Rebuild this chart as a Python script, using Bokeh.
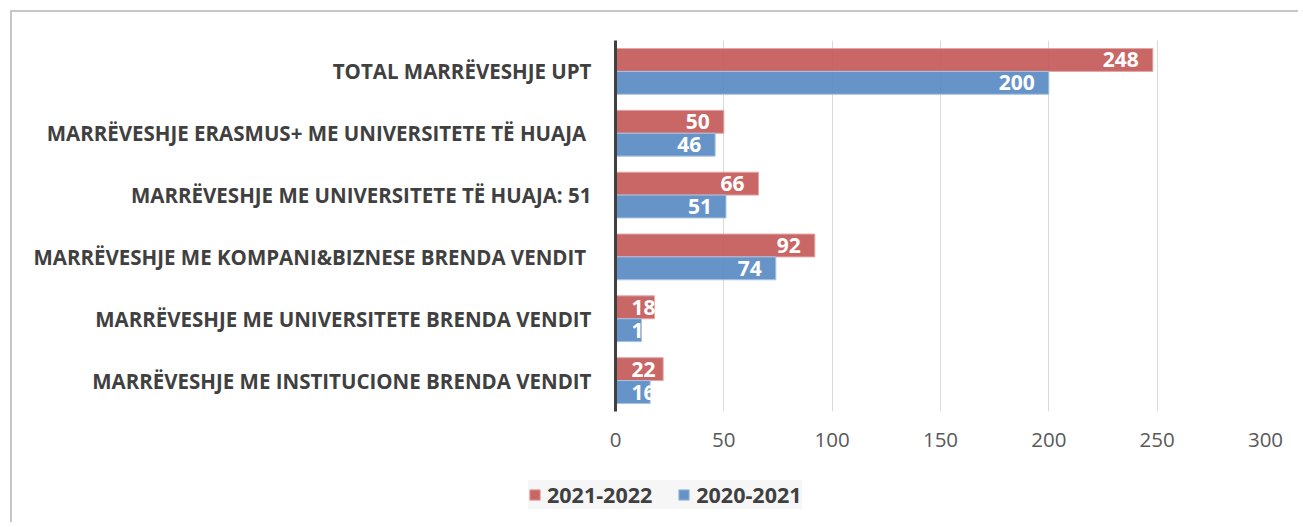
from bokeh.plotting import figure
from bokeh.layouts import column
from bokeh.models import ColumnDataSource, FactorRange, Legend, LegendItem, FixedTicker, Column
from bokeh.transform import dodge
from bokeh.core.properties import value
from bokeh.embed import file_html
from bokeh.resources import INLINE

# ---- data ----
categories = [
    "TOTAL MARRËVESHJE UPT",
    "MARRËVESHJE ERASMUS+ ME UNIVERSITETE TË HUAJA ",
    "MARRËVESHJE ME UNIVERSITETE TË HUAJA: 51",
    "MARRËVESHJE ME KOMPANI&BIZNESE BRENDA VENDIT ",
    "MARRËVESHJE ME UNIVERSITETE BRENDA VENDIT",
    "MARRËVESHJE ME INSTITUCIONE BRENDA VENDIT",
]
series_names = ["2021-2022", "2020-2021"]
values_2122 = [248, 50, 66, 92, 18, 22]
values_2021 = [200, 46, 51, 74, 12, 16]
labels_2122 = ["248", "50", "66", "92", "18", "22"]
labels_2021 = ["200", "46", "51", "74", "1", "16"]
x_ticks = [0, 50, 100, 150, 200, 250, 300]

RED = "#C35757"
BLUE = "#5788C2"
RED_LINE = "#E3A5A5"
BLUE_LINE = "#A9C3E3"
FONT = "Open Sans"


def make_source(vals, labels):
    return ColumnDataSource(dict(
        cat=categories,
        val=vals,
        label=labels,
        lx=[v if v >= 30 else 0 for v in vals],
        align=["right" if v >= 30 else "left" for v in vals],
        xoff=[-14 if v >= 30 else 16 for v in vals],
    ))


src_a = make_source(values_2122, labels_2122)
src_b = make_source(values_2021, labels_2021)

W = 1286
p = figure(
    width=W, height=448,
    y_range=FactorRange(*reversed(categories)),
    x_range=(0, 300),
    output_backend="svg", toolbar_location=None,
    min_border_left=603, min_border_right=33,
    min_border_top=28, min_border_bottom=49,
)
p.outline_line_color = None
p.background_fill_color = "white"
p.border_fill_color = "white"

ra = p.hbar(y=dodge("cat", 0.185, range=p.y_range), right="val", left=0, height=0.37,
            source=src_a, fill_color=RED, fill_alpha=0.9, line_color=RED_LINE, line_width=1)
rb = p.hbar(y=dodge("cat", -0.185, range=p.y_range), right="val", left=0, height=0.37,
            source=src_b, fill_color=BLUE, fill_alpha=0.9, line_color=BLUE_LINE, line_width=1)

for src, off in ((src_a, 0.185), (src_b, -0.185)):
    p.text(x="lx", y=dodge("cat", off, range=p.y_range), text="label", source=src,
           text_align="align", x_offset="xoff", text_baseline="middle",
           text_color="white", text_font=value(FONT), text_font_style="bold",
           text_font_size="21px")

# axes
p.xaxis.ticker = FixedTicker(ticks=x_ticks)
p.xaxis.axis_line_color = None
p.xaxis.major_tick_line_color = None
p.xaxis.minor_tick_line_color = None
p.xaxis.major_label_text_font = FONT
p.xaxis.major_label_text_font_size = "20.5px"
p.xaxis.major_label_text_color = "#595959"
p.xaxis.major_label_standoff = 15

p.yaxis.axis_line_color = "#404040"
p.yaxis.axis_line_width = 3
p.yaxis.major_tick_line_color = None
p.yaxis.minor_tick_line_color = None
p.yaxis.major_label_text_font = FONT
p.yaxis.major_label_text_font_style = "bold"
p.yaxis.major_label_text_font_size = "20.5px"
p.yaxis.major_label_text_color = "#404040"
p.yaxis.major_label_standoff = 18

p.xgrid.grid_line_color = "#d9d9d9"
p.xgrid.grid_line_width = 1
p.ygrid.grid_line_color = None

# ---- legend strip below the chart ----
q = figure(
    width=W, height=62, x_range=(0, 1), y_range=(0, 1),
    x_axis_type=None, y_axis_type=None,
    output_backend="svg", toolbar_location=None,
    min_border=0, min_border_left=0, min_border_right=0,
    min_border_top=0, min_border_bottom=0,
)
q.outline_line_color = None
q.xgrid.grid_line_color = None
q.ygrid.grid_line_color = None
# legend swatches (one off-range point each so the legend draws its glyph)
la = q.hbar(y=[-5], right=[1], left=0, height=1, fill_color=RED, fill_alpha=0.9, line_color=RED_LINE)
lb = q.hbar(y=[-5], right=[1], left=0, height=1, fill_color=BLUE, fill_alpha=0.9, line_color=BLUE_LINE)

legend = Legend(
    items=[LegendItem(label=series_names[0], renderers=[la]),
           LegendItem(label=series_names[1], renderers=[lb])],
    orientation="horizontal",
    location=(516, 13),
    background_fill_color="#f6f6f6", background_fill_alpha=1,
    border_line_color=None,
    glyph_width=13, glyph_height=13,
    label_text_font=FONT, label_text_font_size="21.5px",
    label_text_font_style="bold", label_text_color="#404040",
    spacing=25, label_standoff=6, padding=10, margin=0,
)
q.add_layout(legend)

layout = column(p, Column(q), spacing=0)
layout.styles = {
    "margin-left": "10px", "margin-top": "10px",
    "border-left": "2px solid #c6c6c6", "border-top": "2px solid #c6c6c6",
}

open("out.html", "w").write(file_html(layout, INLINE))
